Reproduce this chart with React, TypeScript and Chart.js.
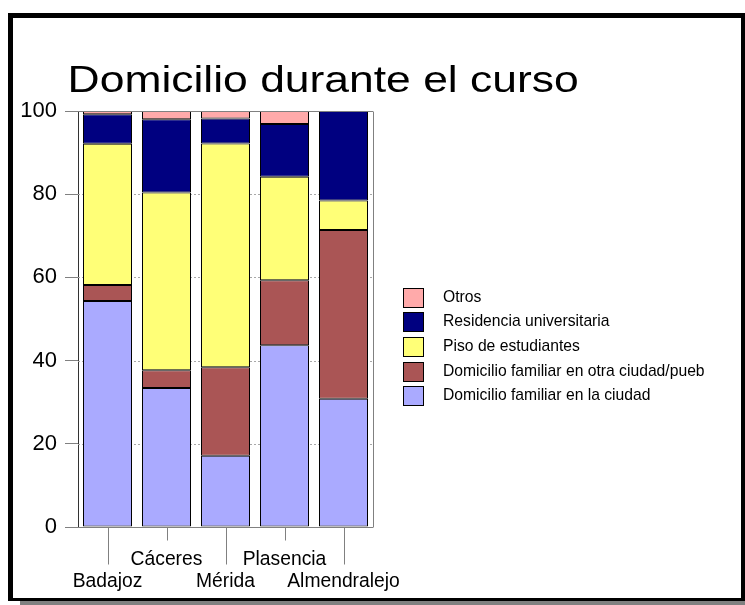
import React, { useEffect, useRef } from "react";
import { Chart, registerables } from "chart.js";

Chart.register(...registerables);

const TITLE = "Domicilio durante el curso";
const categories = ["Badajoz", "Cáceres", "Mérida", "Plasencia", "Almendralejo"];
const seriesNames = [
  "Domicilio familiar en la ciudad",
  "Domicilio familiar en otra ciudad/pueb",
  "Piso de estudiantes",
  "Residencia universitaria",
  "Otros",
];
const domicilioCiudad = [54.3, 33.4, 17.1, 43.7, 30.8];
const domicilioOtra = [3.9, 4.3, 21.3, 15.6, 40.6];
const pisoEstudiantes = [33.9, 42.7, 53.8, 24.9, 7.1];
const residencia = [7.1, 17.6, 6.0, 12.7, 21.5];
const otros = [0.8, 2.0, 1.8, 3.1, 0];
const seriesColors = ["#AAAAFF", "#AA5555", "#FFFF77", "#000080", "#FFAAAA"];
const yTicks = [0, 20, 40, 60, 80, 100];

const FONT = '"Liberation Sans", Arial, Helvetica, sans-serif';

const framePlugin = {
  id: "frameExtras",
  beforeDatasetsDraw(chart: any) {
    const { ctx, chartArea } = chart;
    const y = chart.scales.y;
    ctx.save();
    ctx.strokeStyle = "#a8a8a8";
    ctx.lineWidth = 1;
    ctx.setLineDash([2, 2]);
    yTicks.forEach((v) => {
      if (v === 0 || v === 100) return;
      const py = Math.round(y.getPixelForValue(v)) + 0.5;
      ctx.beginPath();
      ctx.moveTo(chartArea.left, py);
      ctx.lineTo(chartArea.right, py);
      ctx.stroke();
    });
    ctx.restore();
  },
  afterDatasetsDraw(chart: any) {
    const { ctx, chartArea } = chart;
    const y = chart.scales.y;
    const x = chart.scales.x;
    ctx.save();
    ctx.strokeStyle = "#808080";
    ctx.lineWidth = 1;
    const top = Math.round(y.getPixelForValue(100)) + 0.5;
    const bot = Math.round(y.getPixelForValue(0)) + 0.5;
    ctx.beginPath();
    ctx.moveTo(chartArea.left, top);
    ctx.lineTo(chartArea.right, top);
    ctx.moveTo(chartArea.left, bot);
    ctx.lineTo(chartArea.right, bot);
    ctx.moveTo(Math.round(chartArea.right) + 0.5, top);
    ctx.lineTo(Math.round(chartArea.right) + 0.5, bot);
    ctx.stroke();
    categories.forEach((_, i) => {
      const px = Math.round(x.getPixelForTick(i)) + 0.5;
      const len = i % 2 === 0 ? 37 : 13;
      ctx.beginPath();
      ctx.moveTo(px, bot);
      ctx.lineTo(px, bot + len);
      ctx.stroke();
    });
    ctx.restore();
  },
  afterDraw(chart: any) {
    const { ctx } = chart;
    ctx.save();
    // title
    ctx.fillStyle = "#000";
    ctx.font = `36px ${FONT}`;
    ctx.textBaseline = "alphabetic";
    ctx.textAlign = "left";
    ctx.translate(54.6, 74.3);
    ctx.scale(1.234, 1);
    ctx.fillText(TITLE, 0, 0);
    ctx.restore();

    // legend
    ctx.save();
    const ds = chart.data.datasets;
    ctx.font = `15.7px ${FONT}`;
    ctx.textBaseline = "middle";
    ctx.textAlign = "left";
    for (let i = 0; i < ds.length; i++) {
      const d = ds[ds.length - 1 - i];
      const by = 269.5 + i * 24.7;
      const bx = 390.5;
      ctx.fillStyle = d.backgroundColor;
      ctx.fillRect(bx, Math.round(by) + 0.5, 20, 19);
      ctx.strokeStyle = "#000";
      ctx.lineWidth = 1;
      ctx.strokeRect(bx, Math.round(by) + 0.5, 20, 19);
      ctx.fillStyle = "#000";
      ctx.fillText(d.label, 430, Math.round(by) + 10);
    }
    ctx.restore();
  },
};

export default function App() {
  const ref = useRef<HTMLCanvasElement | null>(null);
  useEffect(() => {
    document.body.style.overflow = "hidden";
    const canvas = ref.current;
    if (!canvas) return;
    const values = [domicilioCiudad, domicilioOtra, pisoEstudiantes, residencia, otros];
    const chart = new Chart(canvas, {
      type: "bar",
      data: {
        labels: categories.map((c, i) => (i % 2 === 0 ? ["", c] : [c])),
        datasets: values.map((v, i) => ({
          label: seriesNames[i],
          data: v,
          backgroundColor: seriesColors[i],
          borderColor: "#000",
          borderWidth: 1,
          borderSkipped: false,
          barPercentage: 0.8306,
          categoryPercentage: 1,
        })),
      },
      options: {
        animation: false,
        responsive: false,
        devicePixelRatio: 1,
        layout: { padding: { left: 5, right: 368, top: 93, bottom: 0 } },
        plugins: {
          legend: { display: false },
          title: { display: false },
          tooltip: { enabled: false },
        },
        scales: {
          x: {
            stacked: true,
            grid: { display: false, drawTicks: false },
            border: { display: false },
            ticks: {
              autoSkip: false,
              maxRotation: 0,
              minRotation: 0,
              padding: 22,
              color: "#000",
              font: { family: FONT, size: 19.3, lineHeight: 1.12 },
            },
            afterFit: (s: any) => {
              s.height = 71;
            },
          },
          y: {
            stacked: true,
            min: 0,
            max: 100,
            grid: {
              display: true,
              drawOnChartArea: false,
              drawTicks: true,
              tickLength: 13,
              tickColor: "#808080",
            },
            border: { display: true, color: "#333" },
            ticks: {
              stepSize: 20,
              padding: 8,
              color: "#000",
              font: { family: FONT, size: 22 },
            },
            afterFit: (s: any) => {
              s.width = 60;
            },
          },
        },
      },
      plugins: [framePlugin],
    });
    return () => chart.destroy();
  }, []);

  return (
    <div>
      <div
        style={{
          position: "absolute",
          left: 8,
          top: 13,
          width: 737,
          height: 588,
          boxSizing: "border-box",
          borderStyle: "solid",
          borderColor: "#000",
          borderWidth: "5px 4px 3px 5px",
          background: "#fff",
        }}
      >
        <canvas ref={ref} width={728} height={580} style={{ display: "block", width: 728, height: 580 }} />
      </div>
      <div
        style={{
          position: "absolute",
          left: 20,
          top: 601,
          width: 725,
          height: 4,
          background: "#808080",
        }}
      />
    </div>
  );
}
